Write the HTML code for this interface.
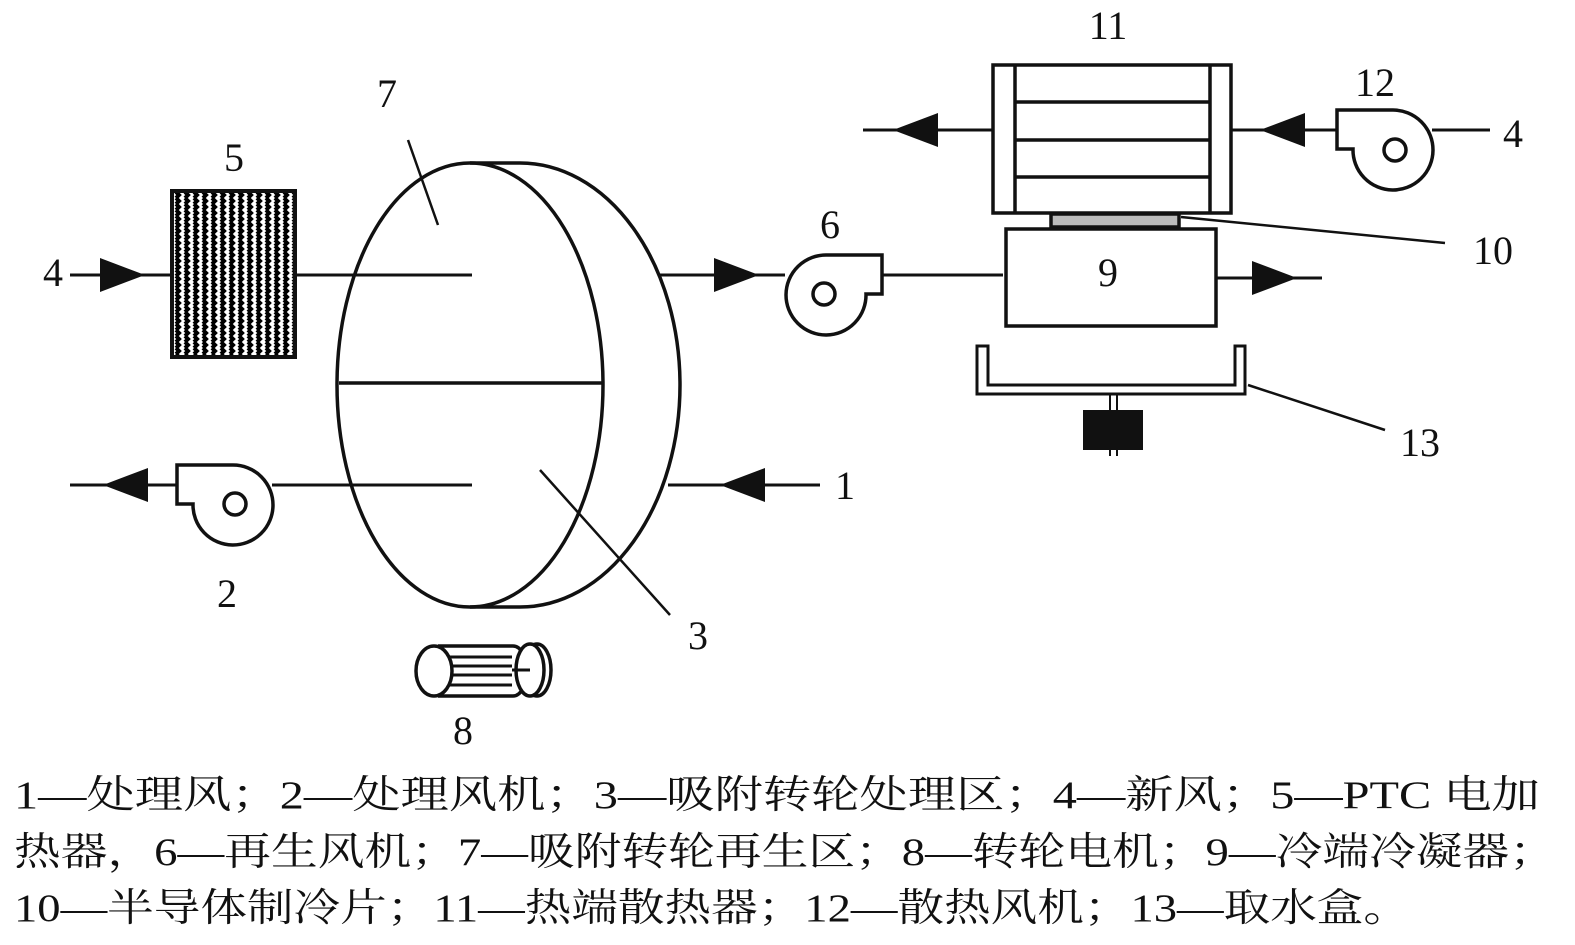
<!DOCTYPE html>
<html><head><meta charset="utf-8"><style>
html,body{margin:0;padding:0;background:#fff}
svg{display:block}
text{font-family:"Liberation Serif","Noto Serif CJK SC",serif;fill:#111}
</style></head><body>
<svg width="1575" height="945" viewBox="0 0 1575 945" xmlns="http://www.w3.org/2000/svg">
<defs>
<pattern id="wv" x="174" y="0" width="9" height="6" patternUnits="userSpaceOnUse">
<rect width="9" height="6" fill="#fff"/>
<path d="M2 0 L5 3 L2 6" stroke="#000" stroke-width="4" fill="none"/>
</pattern>
</defs>
<g stroke="#111" stroke-width="3" fill="none">
<line x1="70" y1="275" x2="172" y2="275"/>
<line x1="295" y1="275" x2="472" y2="275"/>
<line x1="660" y1="275" x2="785" y2="275"/>
<line x1="882" y1="275" x2="1003" y2="275"/>
<line x1="1216" y1="278" x2="1322" y2="278"/>
<line x1="70" y1="485" x2="177" y2="485"/>
<line x1="272" y1="485" x2="472" y2="485"/>
<line x1="668" y1="485" x2="820" y2="485"/>
<line x1="863" y1="130" x2="993" y2="130"/>
<line x1="1231" y1="130" x2="1337" y2="130"/>
<line x1="1432" y1="130" x2="1490" y2="130"/>
</g>
<g fill="#111">
<polygon points="100,258 145,275 100,292"/>
<polygon points="714,258 759,275 714,292"/>
<polygon points="1252,261 1297,278 1252,295"/>
<polygon points="148,468 103,485 148,502"/>
<polygon points="765,468 720,485 765,502"/>
<polygon points="938,113 893,130 938,147"/>
<polygon points="1305,113 1260,130 1305,147"/>
</g>
<rect x="172" y="191" width="123" height="166" fill="url(#wv)" stroke="#111" stroke-width="4"/>
<g stroke="#111" stroke-width="3.5" fill="none">
<path d="M470 163 L 520 163 A 160 222 0 0 1 520 607 L 470 607"/>
<ellipse cx="470" cy="385" rx="133" ry="222"/>
<line x1="339" y1="383" x2="602" y2="383"/>
<line x1="408" y1="140" x2="438" y2="225" stroke-width="2.5"/>
<line x1="540" y1="470" x2="670" y2="615" stroke-width="2.5"/>
</g>
<g stroke="#111" stroke-width="3.5" fill="#fff">
<path d="M827 255 H882 V294 H866 A40 40 0 1 1 827 255 Z"/>
<circle cx="824" cy="294" r="11" fill="none"/>
<path d="M233 465 H177 V504 H193 A40 40 0 1 0 233 465 Z"/>
<circle cx="235" cy="504" r="11" fill="none"/>
<path d="M1393 110 H1337 V149 H1353 A40 40 0 1 0 1393 110 Z"/>
<circle cx="1395" cy="150" r="11" fill="none"/>
</g>
<g stroke="#111" stroke-width="3.5" fill="#fff">
<rect x="993" y="65" width="238" height="148"/>
<line x1="1015" y1="65" x2="1015" y2="213"/>
<line x1="1210" y1="65" x2="1210" y2="213"/>
<line x1="1015" y1="102" x2="1210" y2="102"/>
<line x1="1015" y1="140" x2="1210" y2="140"/>
<line x1="1015" y1="177" x2="1210" y2="177"/>
<rect x="1051" y="214" width="128" height="13" fill="#bbb"/>
<rect x="1006" y="229" width="210" height="97"/>
<line x1="1181" y1="217" x2="1445" y2="243" stroke-width="2.5"/>
</g>
<g stroke="#111" stroke-width="3" fill="#fff">
<path d="M977 346 H988 V385 H1235 V346 H1245 V394 H977 Z"/>
<line x1="1248" y1="385" x2="1385" y2="430" stroke-width="2.5"/>
<line x1="1110" y1="394" x2="1110" y2="456" stroke-width="2"/>
<line x1="1117" y1="394" x2="1117" y2="456" stroke-width="2"/>
</g>
<rect x="1083" y="410" width="60" height="40" fill="#111"/>
<g stroke="#111" stroke-width="3.5" fill="#fff">
<path d="M438 646 H513 A14 25 0 0 1 513 696 H438"/>
<line x1="445" y1="657" x2="512" y2="657" stroke-width="3"/>
<line x1="445" y1="666" x2="512" y2="666" stroke-width="3"/>
<line x1="445" y1="675" x2="512" y2="675" stroke-width="3"/>
<line x1="445" y1="685" x2="512" y2="685" stroke-width="3"/>
<ellipse cx="434" cy="671" rx="18" ry="25"/>
<ellipse cx="537" cy="670" rx="14" ry="26"/>
<ellipse cx="530" cy="670" rx="14" ry="26"/>
<line x1="512" y1="670" x2="530" y2="670" stroke-width="3"/>
</g>
<g font-size="40" text-anchor="middle">
<text x="845" y="499">1</text>
<text x="227" y="607">2</text>
<text x="698" y="649">3</text>
<text x="53" y="286">4</text>
<text x="1513" y="147">4</text>
<text x="234" y="171">5</text>
<text x="830" y="238">6</text>
<text x="387" y="107">7</text>
<text x="463" y="744">8</text>
<text x="1108" y="286">9</text>
<text x="1493" y="264">10</text>
<text x="1108" y="39">11</text>
<text x="1375" y="96">12</text>
<text x="1420" y="456">13</text>
</g>
<g font-size="39">
<text x="14" y="808" textLength="1526" lengthAdjust="spacingAndGlyphs">1—处理风；2—处理风机；3—吸附转轮处理区；4—新风；5—PTC 电加</text>
<text x="14" y="865" textLength="1542" lengthAdjust="spacingAndGlyphs">热器，6—再生风机；7—吸附转轮再生区；8—转轮电机；9—冷端冷凝器；</text>
<text x="14" y="921" textLength="1396" lengthAdjust="spacingAndGlyphs">10—半导体制冷片；11—热端散热器；12—散热风机；13—取水盒。</text>
</g>
</svg>
</body></html>
